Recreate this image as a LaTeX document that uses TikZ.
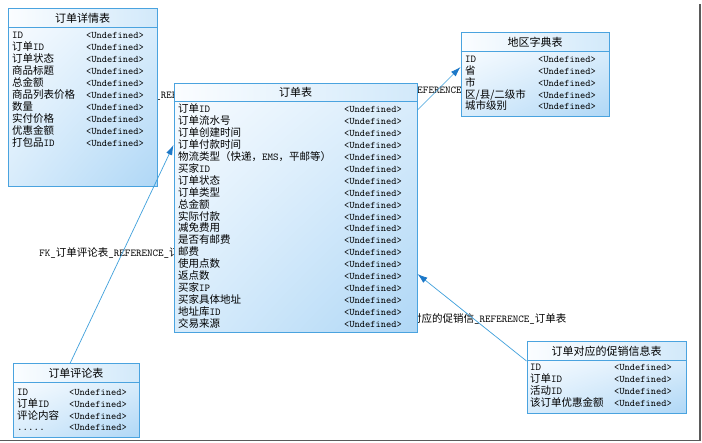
\documentclass[tikz,border=0pt]{standalone}
\usepackage{fontspec}
\setmainfont{Noto Sans CJK SC}
\usetikzlibrary{arrows.meta,shadings}
\definecolor{bordc}{HTML}{4AA3DF}
\definecolor{linec}{HTML}{3FA0DC}
\definecolor{arrc}{HTML}{1C78C8}
\definecolor{bodyA}{HTML}{F7FBFF}
\definecolor{bodyB}{HTML}{D8ECFB}
\definecolor{bodyC}{HTML}{AFD7F6}
\definecolor{headA}{HTML}{FBFDFF}
\definecolor{headB}{HTML}{D2E9FA}
\definecolor{framec}{HTML}{5A5A5A}
\newcommand\lt[1]{{\ttfamily #1}}
\tikzset{
 rowtext/.style={anchor=base west, inner sep=0pt, font=\fontsize{10.5}{12}\selectfont},
 typetext/.style={anchor=base west, inner sep=0pt, font=\fontsize{10}{12}\selectfont\ttfamily},
 titletext/.style={anchor=base, inner sep=0pt, font=\fontsize{11}{12}\selectfont},
 fklabel/.style={anchor=base, inner sep=0pt, font=\fontsize{10.5}{12}\selectfont},
 tblframe/.style={draw=bordc, line width=1pt, inner sep=0pt, rectangle},
 conn/.style={draw=linec, line width=0.7pt, -{Latex[length=10pt,width=6.5pt,color=arrc]}},
}
\newcommand\tablebox[7]{%
 \shade[upper left=bodyA, upper right=bodyB, lower left=bodyB, lower right=bodyC] (#2,#6) rectangle (#4,#5);
 \shade[left color=headA, right color=headB] (#2,#3) rectangle (#4,#6);
 \node[tblframe, minimum width={(#4-#2)*1pt}, minimum height={(#5-#3)*1pt}] (#1) at ({(#2+#4)/2},{(#3+#5)/2}) {};
 \draw[draw=bordc, line width=1pt] (#1.west |- 0,#6) -- (#1.east |- 0,#6);
 \node[titletext] (#1-title) at ({(#2+#4)/2},{(#3+#6)/2+4}) {#7};
}
\begin{document}
\begin{tikzpicture}[x=1pt,y=-1pt]
\useasboundingbox (0,0) rectangle (702,443);
\fill[white] (0,0) rectangle (702,443);
% reference labels (partly hidden by the tables)
\node[fklabel] (lab1) at (167,99) {\lt{FK\_}订单详情表\lt{\_REFERENCE\_}订单表};
\node[fklabel] (lab2) at (120,257) {\lt{FK\_}订单评论表\lt{\_REFERENCE\_}订单表};
\node[fklabel] (lab3) at (439,93.5) {\lt{FK\_}订单表\lt{\_REFERENCE\_}地区字典表};
\node[fklabel] (lab4) at (470,323) {\lt{FK\_}订单对应的促销信\lt{\_REFERENCE\_}订单表};
% tables
\tablebox{detail}{8}{9}{157}{187}{28}{订单详情表}
\foreach \nm [count=\k from 0] in {\lt{ID},订单\lt{ID},订单状态,商品标题,总金额,商品列表价格,数量,实付价格,优惠金额,打包品\lt{ID}}{
 \node[rowtext] (dn\k) at (12,{39+12*\k}) {\nm};
 \node[typetext] (dt\k) at (86,{39+12*\k}) {<Undefined>};
}
\tablebox{order}{174}{84}{417}{333}{102}{订单表}
\foreach \nm [count=\k from 0] in {订单\lt{ID},订单流水号,订单创建时间,订单付款时间,物流类型（快递，\lt{EMS}，平邮等）,买家\lt{ID},订单状态,订单类型,总金额,实际付款,减免费用,是否有邮费,邮费,使用点数,返点数,买家\lt{IP},买家具体地址,地址库\lt{ID},交易来源}{
 \node[rowtext] (on\k) at (178,{113+11.9*\k}) {\nm};
 \node[typetext] (ot\k) at (344,{113+11.9*\k}) {<Undefined>};
}
\tablebox{region}{461}{33}{609}{117}{52}{地区字典表}
\foreach \nm [count=\k from 0] in {\lt{ID},省,市,区/县/二级市,城市级别}{
 \node[rowtext] (rn\k) at (465,{63+11.75*\k}) {\nm};
 \node[typetext] (rt\k) at (538,{63+11.75*\k}) {<Undefined>};
}
\tablebox{comment}{13}{364}{139}{438}{383}{订单评论表}
\foreach \nm [count=\k from 0] in {\lt{ID},订单\lt{ID},评论内容,\lt{.....}}{
 \node[rowtext] (cn\k) at (17,{396+11.6*\k}) {\nm};
 \node[typetext] (ct\k) at (69,{396+11.6*\k}) {<Undefined>};
}
\tablebox{promo}{527}{342}{686}{414}{361}{订单对应的促销信息表}
\foreach \nm [count=\k from 0] in {\lt{ID},订单\lt{ID},活动\lt{ID},该订单优惠金额}{
 \node[rowtext] (pn\k) at (530,{371+12*\k}) {\nm};
 \node[typetext] (pt\k) at (614,{371+12*\k}) {<Undefined>};
}
% connectors
\draw[conn] (comment.north -| 70,0) -- (order.west |- 0,145);
\draw[conn] (order.east |- 0,110) -- (region.west |- 0,67);
\draw[conn] (promo.west |- 0,361) -- (order.east |- 0,274);
% screenshot frame shadow
\draw[framec, line width=1.6pt] (700,4) -- (700,440.5) -- (0,440.5);
\end{tikzpicture}
\end{document}
